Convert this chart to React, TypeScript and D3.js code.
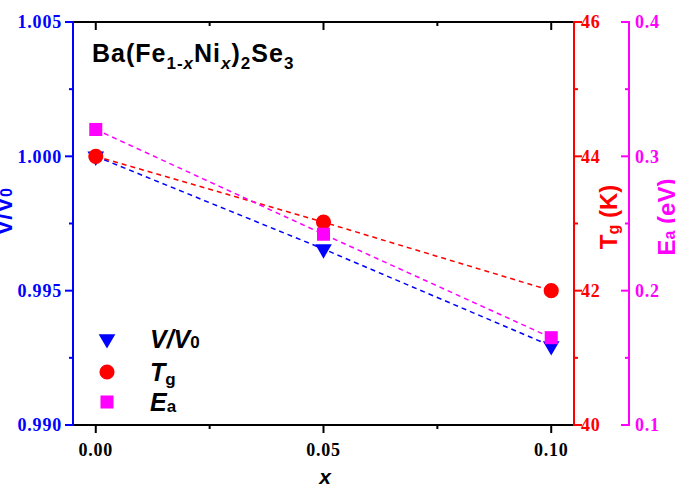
import React, { useRef, useEffect } from 'react';
import * as d3 from 'd3';

// Ni content x and the three measured quantities
const xValues = [0, 0.05, 0.1];
const volumeRatio = [1.0, 0.99655, 0.99294];
const glassTemp = [44.0, 43.02, 42.0];
const activationEnergy = [0.32, 0.242, 0.165];

// tick values for every axis
const xTicks = [0, 0.05, 0.1];
const xMinorTicks = [0.025, 0.075];
const vTicks = [0.99, 0.995, 1.0, 1.005];
const vMinorTicks = [0.9925, 0.9975, 1.0025];
const tTicks = [40, 42, 44, 46];
const tMinorTicks = [41, 43, 45];
const eTicks = [0.1, 0.2, 0.3, 0.4];
const eMinorTicks = [0.15, 0.25, 0.35];

const BLUE = '#0000ff';
const RED = '#ff0000';
const MAGENTA = '#ff00ff';

const W = 675;
const H = 493;
const plot = { left: 73, right: 574, top: 22, bottom: 425 };
const eAxisX = 629;

const serif = '"Liberation Serif", "Times New Roman", serif';
const sans = '"Liberation Sans", Arial, sans-serif';

const Chart: React.FC = () => {
    const ref = useRef<SVGSVGElement>(null);

    useEffect(() => {
        if (ref.current) drawChart();
    }, []);

    const drawChart = () => {
        const svg = d3.select(ref.current);
        svg.selectAll('*').remove();

        const x = d3.scaleLinear().domain([-0.005, 0.105]).range([plot.left, plot.right]);
        const yV = d3.scaleLinear().domain([0.99, 1.005]).range([plot.bottom, plot.top]);
        const yT = d3.scaleLinear().domain([40, 46]).range([plot.bottom, plot.top]);
        const yE = d3.scaleLinear().domain([0.1, 0.4]).range([plot.bottom, plot.top]);

        // vertical axis with ticks on one side and labels on the other
        const vAxis = (
            ax: number, scale: d3.ScaleLinear<number, number>, major: number[], minor: number[],
            color: string, tickDir: number, labelX: number, anchor: string, fmt: (v: number) => string
        ) => {
            const g = svg.append('g');
            g.append('line')
                .attr('x1', ax).attr('x2', ax)
                .attr('y1', plot.top - 1).attr('y2', plot.bottom + 1)
                .attr('stroke', color).attr('stroke-width', 2);
            g.selectAll('.maj').data(major).enter().append('line')
                .attr('x1', ax).attr('x2', ax + tickDir * 8)
                .attr('y1', d => scale(d)).attr('y2', d => scale(d))
                .attr('stroke', color).attr('stroke-width', 2);
            g.selectAll('.min').data(minor).enter().append('line')
                .attr('x1', ax).attr('x2', ax + tickDir * 4)
                .attr('y1', d => scale(d)).attr('y2', d => scale(d))
                .attr('stroke', color).attr('stroke-width', 2);
            g.selectAll('text').data(major).enter().append('text')
                .attr('x', labelX).attr('y', d => scale(d))
                .attr('dy', '0.35em')
                .attr('text-anchor', anchor)
                .attr('fill', color)
                .style('font-family', serif).style('font-weight', 'bold')
                .style('font-size', '18px').style('letter-spacing', '0.8px')
                .text(d => fmt(d));
        };

        // top and bottom frame, black
        const frame = svg.append('g');
        [plot.top, plot.bottom].forEach(yy => {
            frame.append('line')
                .attr('x1', plot.left).attr('x2', plot.right)
                .attr('y1', yy).attr('y2', yy)
                .attr('stroke', '#000').attr('stroke-width', 2);
            frame.selectAll(null).data(xTicks).enter().append('line')
                .attr('x1', d => x(d)).attr('x2', d => x(d))
                .attr('y1', yy).attr('y2', yy + 8)
                .attr('stroke', '#000').attr('stroke-width', 2);
            frame.selectAll(null).data(xMinorTicks).enter().append('line')
                .attr('x1', d => x(d)).attr('x2', d => x(d))
                .attr('y1', yy).attr('y2', yy + 4)
                .attr('stroke', '#000').attr('stroke-width', 2);
        });
        frame.selectAll('.xl').data(xTicks).enter().append('text')
            .attr('x', d => x(d)).attr('y', 456)
            .attr('text-anchor', 'middle')
            .style('font-family', serif).style('font-weight', 'bold')
            .style('font-size', '18px').style('letter-spacing', '0.8px')
            .text(d => d3.format('.2f')(d));

        vAxis(plot.left, yV, vTicks, vMinorTicks, BLUE, -1, 62, 'end', d3.format('.3f'));
        vAxis(plot.right, yT, tTicks, tMinorTicks, RED, 1, 581, 'start', d3.format('d'));
        vAxis(eAxisX, yE, eTicks, eMinorTicks, MAGENTA, -1, 635, 'start', d3.format('.1f'));

        // dashed connecting lines and markers, drawn series by series
        const series = [
            { vals: volumeRatio, y: yV, color: BLUE, shape: 'tri' },
            { vals: glassTemp, y: yT, color: RED, shape: 'circle' },
            { vals: activationEnergy, y: yE, color: MAGENTA, shape: 'square' },
        ];
        const symbolFor = (shape: string) => {
            if (shape === 'tri') return d3.symbol().type(d3.symbolTriangle).size(120)();
            if (shape === 'circle') return d3.symbol().type(d3.symbolCircle).size(180)();
            return d3.symbol().type(d3.symbolSquare).size(170)();
        };
        series.forEach(s => {
            const pts = xValues.map((xv, i) => [x(xv), s.y(s.vals[i])] as [number, number]);
            svg.append('path')
                .attr('d', d3.line()(pts))
                .attr('fill', 'none')
                .attr('stroke', s.color)
                .attr('stroke-width', 1.5)
                .attr('stroke-dasharray', '5,4');
        });
        series.forEach(s => {
            svg.selectAll(null).data(xValues).enter().append('path')
                .attr('d', symbolFor(s.shape))
                .attr('transform', (d, i) =>
                    `translate(${x(d)},${s.y(s.vals[i])})${s.shape === 'tri' ? ' rotate(180)' : ''}`)
                .attr('fill', s.color);
        });

        // compound formula
        const title = svg.append('text')
            .attr('x', 92).attr('y', 62)
            .style('font-family', sans).style('font-weight', 'bold')
            .style('font-size', '25px').style('letter-spacing', '1px');
        title.append('tspan').text('Ba(Fe');
        title.append('tspan').attr('dy', 7).style('font-size', '17px').text('1-');
        title.append('tspan').style('font-size', '17px').style('font-style', 'italic').text('x');
        title.append('tspan').attr('dy', -7).text('Ni');
        title.append('tspan').attr('dy', 7).style('font-size', '17px').style('font-style', 'italic').text('x');
        title.append('tspan').attr('dy', -7).text(')');
        title.append('tspan').attr('dy', 7).style('font-size', '17px').text('2');
        title.append('tspan').attr('dy', -7).text('Se');
        title.append('tspan').attr('dy', 7).style('font-size', '17px').text('3');

        // legend
        const legend = svg.append('g');
        const legendRows = [
            { y: 339, shape: 'tri', color: BLUE },
            { y: 372, shape: 'circle', color: RED },
            { y: 402, shape: 'square', color: MAGENTA },
        ];
        legendRows.forEach(r => {
            legend.append('path')
                .attr('d', symbolFor(r.shape))
                .attr('transform', `translate(107,${r.y})${r.shape === 'tri' ? ' rotate(180)' : ''}`)
                .attr('fill', r.color);
        });
        const legText = (yy: number) => legend.append('text')
            .attr('x', 150).attr('y', yy + 9)
            .style('font-family', sans).style('font-weight', 'bold').style('font-size', '25px');
        const l1 = legText(339);
        l1.append('tspan').style('font-style', 'italic').text('V/V');
        l1.append('tspan').style('font-size', '17px').text('0');
        const l2 = legText(372);
        l2.append('tspan').style('font-style', 'italic').text('T');
        l2.append('tspan').attr('dy', 4).style('font-size', '17px').text('g');
        const l3 = legText(402);
        l3.append('tspan').style('font-style', 'italic').text('E');
        l3.append('tspan').attr('dy', 1).style('font-size', '17px').text('a');

        // axis titles
        svg.append('text')
            .attr('x', 325).attr('y', 484)
            .attr('text-anchor', 'middle')
            .style('font-family', sans).style('font-weight', 'bold')
            .style('font-style', 'italic').style('font-size', '21px')
            .text('x');

        const vTitle = svg.append('text')
            .attr('transform', 'translate(12,212) rotate(-90)')
            .attr('text-anchor', 'middle').attr('fill', BLUE)
            .style('font-family', sans).style('font-weight', 'bold').style('font-size', '24px');
        vTitle.append('tspan').text('V/V');
        vTitle.append('tspan').style('font-size', '16px').text('0');

        const tTitle = svg.append('text')
            .attr('transform', 'translate(617,217) rotate(-90)')
            .attr('text-anchor', 'middle').attr('fill', RED)
            .style('font-family', sans).style('font-weight', 'bold').style('font-size', '24px');
        tTitle.append('tspan').text('T');
        tTitle.append('tspan').attr('dy', 2).style('font-size', '16px').text('g');
        tTitle.append('tspan').attr('dy', -2).text(' (K)');

        const eTitle = svg.append('text')
            .attr('transform', 'translate(675,217) rotate(-90)')
            .attr('text-anchor', 'middle').attr('fill', MAGENTA)
            .style('font-family', sans).style('font-weight', 'bold').style('font-size', '24px');
        eTitle.append('tspan').text('E');
        eTitle.append('tspan').style('font-size', '16px').text('a');
        eTitle.append('tspan').text(' (eV)');
    };

    return (
        <svg ref={ref} width={W} height={H}
            style={{ position: 'absolute', left: 0, top: 0, background: '#fff' }} />
    );
};

const App = () => <Chart />;

export default App;
